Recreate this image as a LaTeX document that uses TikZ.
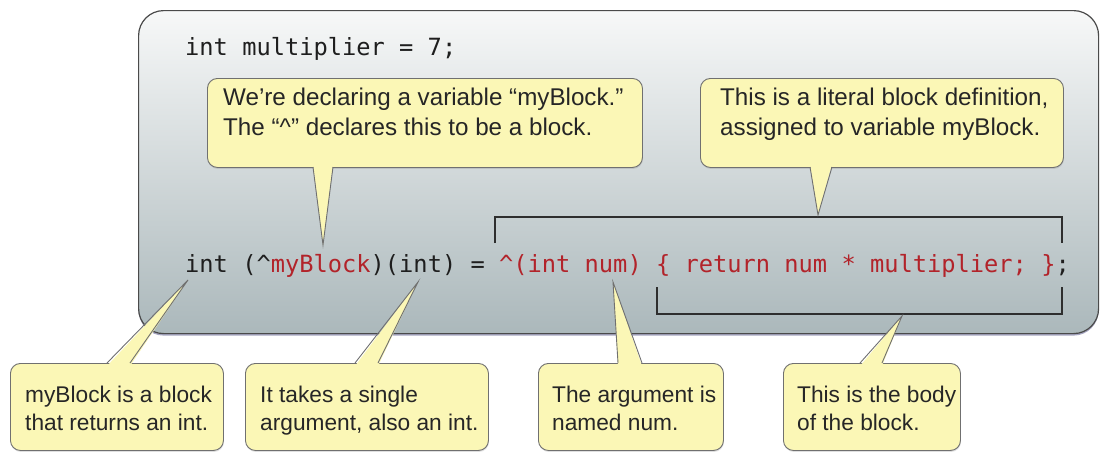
\documentclass[tikz,border=0pt]{standalone}
\usepackage{fontspec}
\setmainfont{Liberation Sans}
\newfontfamily\codefont{DejaVu Sans Mono}
\usetikzlibrary{shadows}
\definecolor{callfill}{HTML}{FBF7B6}
\definecolor{callline}{HTML}{707070}
\definecolor{codered}{HTML}{B2232A}
\definecolor{codeblack}{HTML}{1E1E1E}
\definecolor{frametop}{HTML}{F7F8F8}
\definecolor{framebot}{HTML}{ABB8BB}
\definecolor{frameline}{HTML}{4A4A4A}
\definecolor{bracketcol}{HTML}{2E2E2E}
\tikzset{
  frame/.style={draw=frameline, line width=1.2pt, rounded corners=25pt,
    top color=frametop, bottom color=framebot, anchor=north west, inner sep=0pt,
    drop shadow={shadow xshift=0pt, shadow yshift=-2pt, opacity=.35, fill=black!70!blue}},
  callbox/.style={draw=callline, line width=0.9pt, fill=callfill, rounded corners=10pt,
    anchor=north west, inner sep=0pt,
    drop shadow={shadow xshift=0.5pt, shadow yshift=-1.5pt, opacity=.25}},
  calltext/.style={anchor=north west, inner sep=0pt, align=left, text=black!85},
  toptext/.style={calltext, font=\fontsize{24.2}{30}\selectfont},
  bottext/.style={calltext, font=\fontsize{22.7}{28}\selectfont},
  code/.style={anchor=base west, inner sep=0pt, text=codeblack, font=\codefont\fontsize{23.7}{28}\selectfont},
  bracket/.style={draw=bracketcol, line width=1.6pt},
  pointerfill/.style={fill=callfill},
  pointerline/.style={draw=callline, line width=0.9pt, line join=miter},
}
\newcommand\callpointer[5]{% xleft, xright, border y, inner y, tip name
  \fill[pointerfill] (#1,#4) -- (#5) -- (#2,#4) -- cycle;
  \draw[pointerline] (#1,#3) -- (#5) -- (#2,#3);}
\begin{document}
\begin{tikzpicture}[x=1pt, y=-1pt]
\useasboundingbox (0,0) rectangle (1101,453);
% main frame
\node[frame, minimum width=960pt, minimum height=323pt] (frame) at (138,10) {};

% brackets
\coordinate (bt1) at (495,243);
\coordinate (bt2) at (1062,243);
\coordinate (bb1) at (657,287);
\coordinate (bb2) at (1062,287);
\draw[bracket] (bt1) -- (495,217) -- (1062,217) -- (bt2);
\draw[bracket] (bb1) -- (657,314) -- (1062,314) -- (bb2);

% callout boxes
\node[callbox, minimum width=435pt, minimum height=89pt] (c1) at (207,78) {};
\node[callbox, minimum width=363pt, minimum height=89pt] (c2) at (700,78) {};
\node[callbox, minimum width=213pt, minimum height=87pt] (cA) at (10,363) {};
\node[callbox, minimum width=243pt, minimum height=87pt] (cB) at (245,363) {};
\node[callbox, minimum width=185pt, minimum height=87pt] (cC) at (538,363) {};
\node[callbox, minimum width=177pt, minimum height=87pt] (cD) at (783,363) {};

% pointer tips
\coordinate (t1) at (323,245);
\coordinate (t2) at (818,215);
\coordinate (tA) at (188,280);
\coordinate (tB) at (418,282);
\coordinate (tC) at (613,282);
\coordinate (tD) at (902,316);

\callpointer{313}{333}{167}{164}{t1}
\callpointer{810}{832}{167}{164}{t2}
\callpointer{107}{130}{363}{366}{tA}
\callpointer{355}{378}{363}{366}{tB}
\callpointer{618}{642}{363}{366}{tC}
\callpointer{860}{882}{363}{366}{tD}

% callout texts
\node[toptext] (c1t) at (223,87.3) {We’re declaring a variable “myBlock.”\\The “\textasciicircum” declares this to be a block.};
\node[toptext] (c2t) at (720,87.3) {This is a literal block definition,\\assigned to variable myBlock.};
\node[bottext] (cAt) at (25,385.4) {myBlock is a block\\that returns an int.};
\node[bottext] (cBt) at (260,385.4) {It takes a single\\argument, also an int.};
\node[bottext] (cCt) at (552,385.4) {The argument is\\named num.};
\node[bottext] (cDt) at (797,385.4) {This is the body\\of the block.};

% code
\node[code] (line1) at (185,55) {int multiplier = 7;};
\node[code] (line2) at (185,272) {int (\textasciicircum\textcolor{codered}{myBlock})(int) = \textcolor{codered}{\textasciicircum(int num) \{ return num * multiplier; \}};};
\end{tikzpicture}
\end{document}
